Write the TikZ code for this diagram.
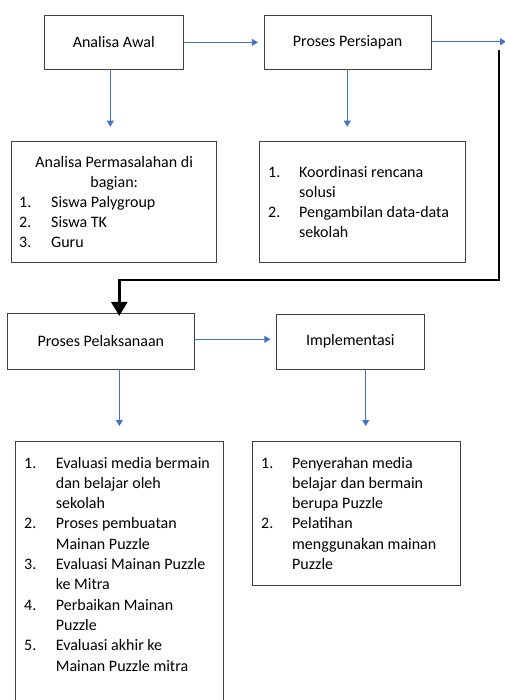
\documentclass[tikz,border=0pt]{standalone}
\usepackage{fontspec}
\setmainfont{Carlito}
\usetikzlibrary{arrows.meta}
\definecolor{wordblue}{HTML}{4472C4}
\begin{document}
\begin{tikzpicture}[x=1pt, y=-1pt,
    box/.style={draw=black!75, line width=0.8pt, inner sep=0pt, font=\fontsize{16}{20}\selectfont},
    txt/.style={anchor=base west, inner sep=0pt, font=\fontsize{16}{20}\selectfont},
    flow/.style={draw=wordblue, line width=0.8pt, -{Triangle[width=7pt,length=6pt]}},
    jump/.style={draw=black, line width=2.8pt, -{Triangle[width=16pt,length=14pt]}}]
    \useasboundingbox (0,0) rectangle (504,700);
    % top row
    \node[box, minimum width=139pt, minimum height=53.3pt] (awal) at (113.8,42.35) {Analisa Awal};
    \node[box, minimum width=167.3pt, minimum height=53.3pt] (persiapan) at (347.65,42.35) {Proses Persiapan};
    \node[box, minimum width=205pt, minimum height=120.6pt] (masalah) at (114.2,202) {};
    \node[box, minimum width=205.7pt, minimum height=120.6pt] (koordinasi) at (362.15,202) {};
    % bottom row
    \node[box, minimum width=187pt, minimum height=55.7pt] (pelaksanaan) at (100.8,341.15) {Proses Pelaksanaan};
    \node[box, minimum width=148pt, minimum height=54.7pt] (implementasi) at (350.3,341.65) {Implementasi};
    \node[box, minimum width=207.3pt, minimum height=270.3pt] (evaluasi) at (119.35,576.85) {};
    \node[box, minimum width=207.6pt, minimum height=143.3pt] (serah) at (356.5,513.35) {};
    % texts of the boxes
    \node[txt, anchor=base] (m0) at (114.2,167.7) {Analisa Permasalahan di};
    \node[txt, anchor=base] (m1) at (114.2,187.7) {bagian:};
    \foreach \t [count=\i] in {Siswa Palygroup, Siswa TK, Guru} {
        \node[txt] (mn\i) at (19,188+19.7*\i) {\i.};
        \node[txt] (m\i t) at (51,188+19.7*\i) {\t};
    }
    \foreach \t [count=\i from 0] in {Koordinasi rencana, solusi, Pengambilan data-data, sekolah}
        \node[txt] (k\i) at (299,178+19.7*\i) {\t};
    \node[txt] (kn1) at (268,178) {1.};
    \node[txt] (kn2) at (268,217.4) {2.};
    \foreach \t [count=\i from 0] in {Evaluasi media bermain, dan belajar oleh, sekolah,
        Proses pembuatan, Mainan Puzzle, Evaluasi Mainan Puzzle, ke Mitra,
        Perbaikan Mainan, Puzzle, Evaluasi akhir ke, Mainan Puzzle mitra}
        \node[txt] (e\i) at (55.7,468+20.3*\i) {\t};
    \foreach \n/\k in {1/0, 2/3, 3/5, 4/7, 5/9}
        \node[txt] (en\n) at (24,468+20.3*\k) {\n.};
    \foreach \t [count=\i from 0] in {Penyerahan media, belajar dan bermain, berupa Puzzle,
        Pelatihan, menggunakan mainan, Puzzle}
        \node[txt] (s\i) at (292,468+20.3*\i) {\t};
    \node[txt] (sn1) at (261,468) {1.};
    \node[txt] (sn2) at (261,528.9) {2.};
    % connectors
    \coordinate (tipA) at (110.3,126.7);
    \coordinate (tipB) at (347.3,126.7);
    \coordinate (tipR) at (506,41.7);
    \coordinate (tipC) at (119.3,426);
    \coordinate (tipF) at (365.7,426);
    \coordinate (top) at (499,50);
    \coordinate (bend) at (119.3,280);
    \draw[flow, shorten >=5.7pt] (awal.east) -- (persiapan.west);
    \draw[flow, shorten >=5.5pt] (pelaksanaan.east |- 0,339.3) -- (implementasi.west |- 0,339.3);
    \draw[flow] (persiapan.east |- tipR) -- (tipR);
    \draw[flow] (awal.south -| tipA) -- (tipA);
    \draw[flow] (persiapan.south -| tipB) -- (tipB);
    \draw[flow] (pelaksanaan.south -| tipC) -- (tipC);
    \draw[flow] (implementasi.south -| tipF) -- (tipF);
    \draw[jump, shorten >=-3pt] (top) |- (bend) -- (bend |- pelaksanaan.north);
\end{tikzpicture}
\end{document}
